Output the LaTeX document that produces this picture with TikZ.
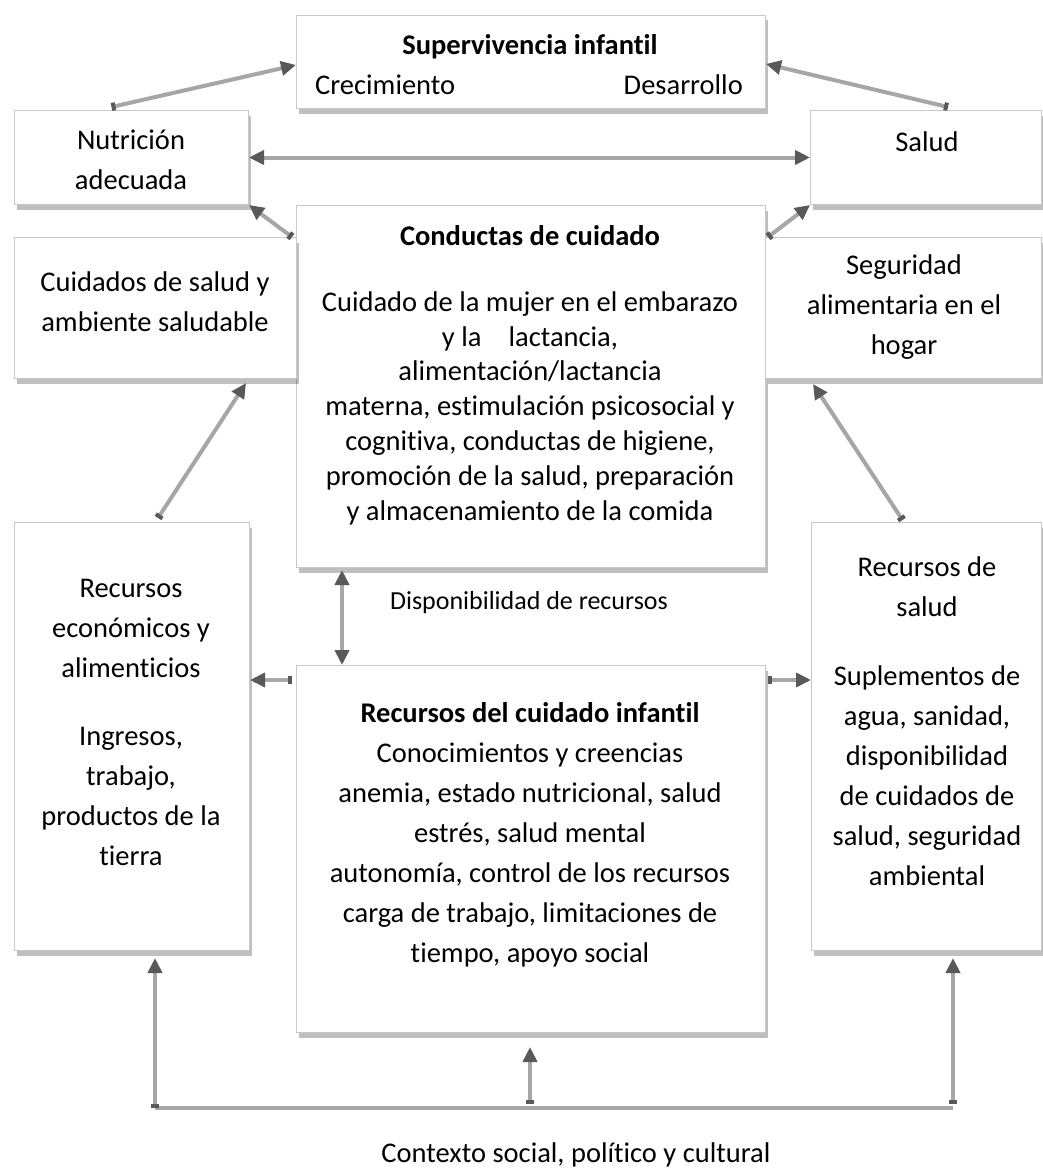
\documentclass[tikz,border=0pt]{standalone}
\usepackage{fontspec}
\setmainfont{Carlito}[Ligatures=NoCommon]
\usetikzlibrary{arrows.meta,shadows,calc}
\definecolor{linecol}{HTML}{A6A6A6}
\definecolor{headcol}{HTML}{595959}
\definecolor{boxline}{HTML}{C8C8C8}
\tikzset{
  box/.style={draw=boxline, line width=1pt, fill=white, anchor=north west, inner sep=0pt,
    drop shadow={shadow xshift=2pt, shadow yshift=-5pt, fill=black, opacity=0.25}},
  txt/.style={font=\fontsize{28.5}{40}\selectfont, align=center, inner sep=0pt},
  txtb/.style={font=\fontsize{28.5}{40}\selectfont\bfseries, align=center, inner sep=0pt},
  txtc/.style={font=\fontsize{28.5}{34.8}\selectfont, align=center, inner sep=0pt},
  smalltxt/.style={font=\fontsize{26}{32}\selectfont, inner sep=0pt},
  conn/.style={draw=linecol, line width=4pt,
    {Square[length=4pt,width=8pt,color=headcol]}-{Triangle[length=15pt,width=14pt,color=headcol]}},
  dconn/.style={draw=linecol, line width=4pt,
    {Triangle[length=15pt,width=14pt,color=headcol]}-{Triangle[length=15pt,width=14pt,color=headcol]}},
  plainconn/.style={draw=linecol, line width=4pt},
}
\begin{document}
\begin{tikzpicture}[x=1pt,y=-1pt]
\useasboundingbox[fill=white] (0,0) rectangle (1042,1172);

% boxes
\node[box, minimum width=469pt, minimum height=93pt] (surv) at (296,15) {};
\node[box, minimum width=234pt, minimum height=94pt] (nutr) at (14,110) {};
\node[box, minimum width=231pt, minimum height=94pt] (salud) at (810,110) {};
\node[box, minimum width=469pt, minimum height=362pt] (cond) at (296,205) {};
\node[box, minimum width=282pt, minimum height=141pt] (cuid) at (14,237) {};
\node[box, minimum width=276pt, minimum height=141pt] (segu) at (765,237) {};
\node[box, minimum width=235pt, minimum height=428pt] (eco) at (14,522) {};
\node[box, minimum width=230pt, minimum height=428pt] (rsal) at (811,522) {};
\node[box, minimum width=469pt, minimum height=367pt] (rci) at (296,665) {};

% texts
\node[txtb] (survT) at (530,47) {Supervivencia infantil};
\node[txt, anchor=west] (crec) at (315,85) {Crecimiento};
\node[txt, anchor=east] (desa) at (743,85) {Desarrollo};
\node[txt] (nutrT) at (131,160) {Nutrición\\adecuada};
\node[txt] (saludT) at (927,142) {Salud};
\node[txtb] (condT) at (530,236) {Conductas de cuidado};
\node[txtc] (condB) at (530,408) {Cuidado de la mujer en el embarazo\\y la\hspace{0.95em}lactancia,\\alimentación/lactancia\\materna, estimulación psicosocial y\\cognitiva, conductas de higiene,\\promoción de la salud, preparación\\y almacenamiento de la comida};
\node[txt] (cuidT) at (155,302) {Cuidados de salud y\\ambiente saludable};
\node[txt] (seguT) at (904,307) {Seguridad\\alimentaria en el\\hogar};
\node[txt] (ecoA) at (131,628) {Recursos\\económicos y\\alimenticios};
\node[txt] (ecoB) at (131,796) {Ingresos,\\trabajo,\\productos de la\\tierra};
\node[txt] (rsalA) at (927,587) {Recursos de\\salud};
\node[txt] (rsalB) at (927,776) {Suplementos de\\agua, sanidad,\\disponibilidad\\de cuidados de\\salud, seguridad\\ambiental};
\node[txt] (rciT) at (530,835) {\textbf{Recursos del cuidado infantil}\\Conocimientos y creencias\\anemia, estado nutricional, salud\\estrés, salud mental\\autonomía, control de los recursos\\carga de trabajo, limitaciones de\\tiempo, apoyo social};
\node[smalltxt] (disp) at (529,603) {Disponibilidad de recursos};
\node[txt] (ctx) at (576,1155) {Contexto social, político y cultural};

% connectors
\draw[conn] ([xshift=-20pt,yshift=3pt]nutr.north) -- ([yshift=-3pt]surv.west);
\draw[conn] ([xshift=22pt,yshift=3pt]salud.north) -- ([yshift=-2pt]surv.east);
\draw[dconn] (nutr.east) -- (salud.west);
\draw[conn] ([xshift=-4pt,yshift=-32pt]cond.north west) -- (nutr.south east);
\draw[conn] ([xshift=2pt,yshift=-32pt]cond.north east) -- (salud.south west);
\draw[conn] ([xshift=26pt,yshift=4pt]eco.north) -- ([xshift=-51pt,yshift=-4pt]cuid.south east);
\draw[conn] ([xshift=-24pt,yshift=2pt]rsal.north) -- ([xshift=48pt,yshift=-5pt]segu.south west);
\draw[dconn] ([xshift=46pt,yshift=-2pt]cond.south west) -- ([xshift=46pt]rci.north west);
\draw[conn] ([xshift=-4pt,yshift=-15pt]rci.north west) -- ([yshift=-158pt]eco.north east);
\draw[conn] ([xshift=2pt,yshift=-15pt]rci.north east) -- ([yshift=-158pt]rsal.north west);

% context connector
\coordinate (blc) at (155,1108);
\coordinate (brc) at (953,1108);
\coordinate (bl) at (155,1108);
\coordinate (bm) at (530,1104);
\coordinate (br) at (953,1104);
\draw[plainconn] (blc) -- (brc);
\draw[conn] (bl) -- ([yshift=-7pt]bl |- eco.south);
\draw[conn] (bm) -- ([yshift=-14pt]bm |- rci.south);
\draw[conn] (br) -- ([yshift=-7pt]br |- rsal.south);
\end{tikzpicture}
\end{document}
